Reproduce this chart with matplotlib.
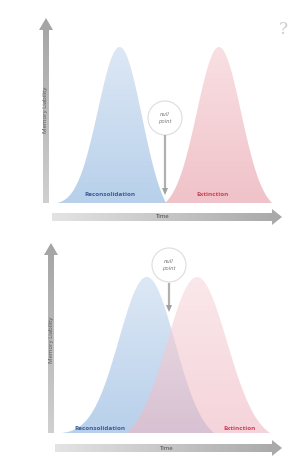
import numpy as np
import matplotlib
matplotlib.use("Agg")
import matplotlib.pyplot as plt
from matplotlib.patches import Polygon, Circle
from matplotlib.colors import LinearSegmentedColormap

plt.rcParams['font.family'] = ['Open Sans', 'DejaVu Sans']

# panel layout (pixel coordinates, y downwards)
panel_base = [203, 433]
panel_top = [18, 243]
yaxis_x = [46, 51]
time_y = [217, 448]
time_x0 = [52, 55]
time_text_x = [163, 167]
ylabel_y = [110, 340]

# bell curves: (centre, sigma, height) per panel
recon_centre = [120, 147]
recon_sigma = [22, 28]
recon_span = [(57, 166), (62, 214)]
ext_centre = [219, 197]
ext_sigma = [22, 30]
ext_span = [(165, 272), (126, 270)]
peak_height = [156, 156]

# null point marker
null_xy = [(165, 118), (169, 265)]
null_arrow = [(135, 195), (283, 312)]
recon_label_x = [110, 100]
ext_label_x = [213, 240]
label_y = [195, 428]

fig = plt.figure(figsize=(2.9, 4.59), dpi=100)
ax = fig.add_axes([0, 0, 1, 1])
ax.set_xlim(0, 290)
ax.set_ylim(459, 0)
ax.axis('off')


def gradient_fill(verts, c_top, c_bot, alpha=1.0, z=2, horizontal=False):
    poly = Polygon(verts, closed=True, facecolor='none', edgecolor='none')
    ax.add_patch(poly)
    cmap = LinearSegmentedColormap.from_list('g', [c_top, c_bot])
    grad = np.linspace(0, 1, 256)
    img = grad[None, :] if horizontal else grad[:, None]
    xs = [v[0] for v in verts]
    ys = [v[1] for v in verts]
    im = ax.imshow(img, cmap=cmap, aspect='auto', alpha=alpha, zorder=z,
                   extent=[min(xs), max(xs), max(ys), min(ys)],
                   origin='upper', interpolation='bilinear')
    im.set_clip_path(poly)


def bell(c, s, h, span, base):
    x = np.linspace(span[0], span[1], 300)
    g = np.exp(-0.5 * ((x - c) / s) ** 2)
    # take off the straight line between the two ends so both touch the base
    g = g - np.interp(x, [x[0], x[-1]], [g[0], g[-1]])
    g = g / g.max()
    y = base - h * g
    return list(zip(x, y)) + [(span[1], base), (span[0], base)]


for i in range(2):
    base = panel_base[i]
    # y axis arrow
    xa = yaxis_x[i]
    top = panel_top[i]
    verts = [(xa - 3, base), (xa - 3, top + 12), (xa - 7, top + 12), (xa, top),
             (xa + 7, top + 12), (xa + 3, top + 12), (xa + 3, base)]
    gradient_fill(verts, '#a4a4a4', '#d0d0d0', z=1)
    ax.text(xa, ylabel_y[i], 'Memory Liability', rotation=90, ha='center',
            va='center', fontsize=4.3, color='#555555')

    # time arrow
    ty = time_y[i]
    x0 = time_x0[i]
    verts = [(x0, ty - 4), (272, ty - 4), (272, ty - 8), (282, ty), (272, ty + 8),
             (272, ty + 4), (x0, ty + 4)]
    gradient_fill(verts, '#e4e4e4', '#a8a8a8', z=1, horizontal=True)
    ax.text(time_text_x[i], ty, 'Time', ha='center', va='center', fontsize=4.3,
            color='#444444', zorder=3)

    # curves
    bv = bell(recon_centre[i], recon_sigma[i], peak_height[i], recon_span[i], base)
    gradient_fill(bv, '#dde8f5', '#b8d0eb', z=2)
    rv = bell(ext_centre[i], ext_sigma[i], peak_height[i], ext_span[i], base)
    if i == 0:
        gradient_fill(rv, '#f9e0e3', '#f0c2c9', z=3)
    else:
        gradient_fill(rv, '#f8d8dd', '#eeb8c2', alpha=0.6, z=3)

    ax.text(recon_label_x[i], label_y[i], 'Reconsolidation', ha='center', va='center',
            fontsize=4.6, fontweight='bold', color='#3b5a9a', zorder=5)
    ax.text(ext_label_x[i], label_y[i], 'Extinction', ha='center', va='center',
            fontsize=4.6, fontweight='bold', color='#d04050', zorder=5)

    # null point
    cx, cy = null_xy[i]
    ax.add_patch(Circle((cx, cy), 17, facecolor='white', edgecolor='#dddddd',
                        lw=0.8, zorder=6))
    ax.text(cx, cy, 'null\npoint', ha='center', va='center', fontsize=4.2,
            style='italic', color='#777777', linespacing=1.4, zorder=7)
    a0, a1 = null_arrow[i]
    ax.plot([cx, cx], [a0, a1 - 6], color='#b0b0b0', lw=1.6, zorder=6,
            solid_capstyle='butt')
    ax.add_patch(Polygon([(cx - 3, a1 - 7), (cx + 3, a1 - 7), (cx, a1)],
                         closed=True, facecolor='#a0a0a0', edgecolor='none', zorder=6))

ax.text(283, 30, '?', ha='center', va='center', fontsize=12, color='#cccccc',
        family='DejaVu Serif')

fig.savefig('out.png', dpi=100)
